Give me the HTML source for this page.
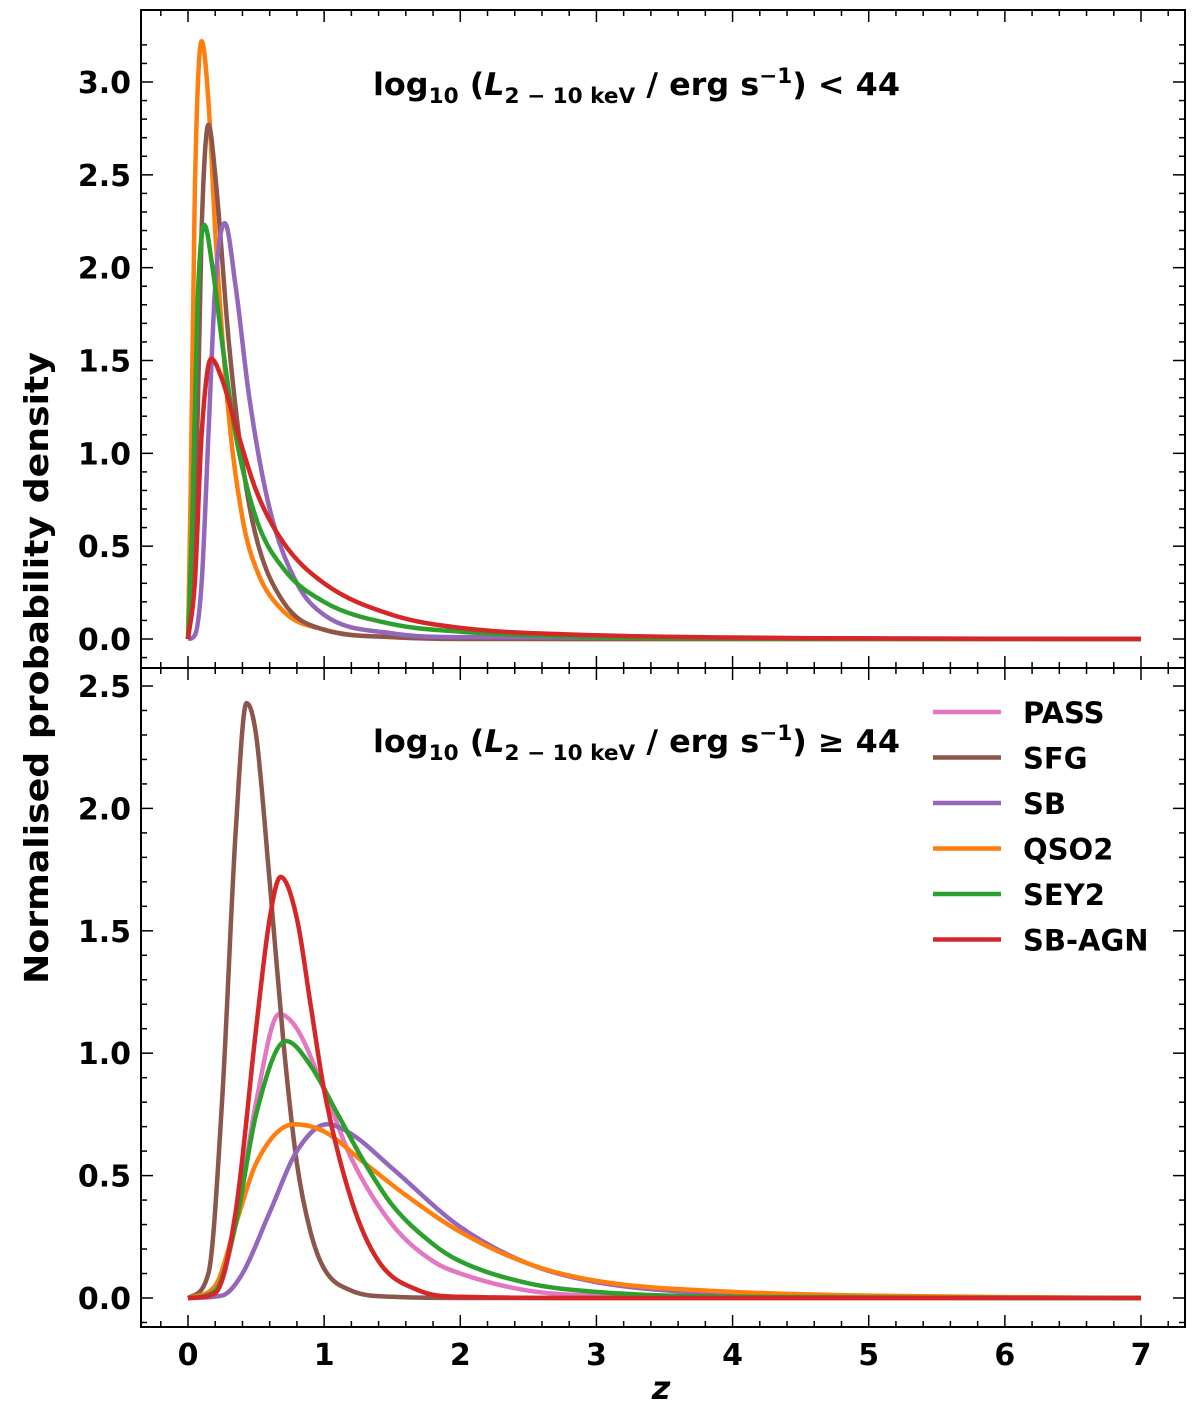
<!DOCTYPE html>
<html><head><meta charset="utf-8"><style>
body{margin:0;background:#fff;}
svg text{font-family:"DejaVu Sans","Liberation Sans",sans-serif;font-weight:bold;fill:#000;}
</style></head><body>
<svg id="chart" width="1200" height="1408" viewBox="0 0 1200 1408" xmlns="http://www.w3.org/2000/svg"></svg>
<script>
const colors={PASS:'#e377c2',SFG:'#8c564b',SB:'#9467bd',QSO2:'#ff7f0e',SEY2:'#2ca02c','SB-AGN':'#d62728'};
const legendNames=['PASS','SFG','SB','QSO2','SEY2','SB-AGN'];
const xTicks=[0,1,2,3,4,5,6,7];
const topYTicks=[0.0,0.5,1.0,1.5,2.0,2.5,3.0];
const botYTicks=[0.0,0.5,1.0,1.5,2.0,2.5];
// top panel (L<44)
const topQSO2z=[0,0.02,0.05,0.1,0.15,0.2,0.3,0.4,0.5,0.7,1,1.5,2,3,4,7];
const topQSO2y=[0,0.8,2.4,3.22,2.9,2.2,1.2,0.65,0.38,0.15,0.05,0.01,0.003,0,0,0];
const topSFGz=[0,0.05,0.1,0.15,0.2,0.3,0.4,0.5,0.7,1,1.5,2,7];
const topSFGy=[0,0.5,2.2,2.77,2.5,1.6,0.95,0.55,0.2,0.05,0.01,0,0];
const topSEY2z=[0,0.03,0.07,0.12,0.18,0.25,0.35,0.5,0.7,1,1.5,2,3,4,7];
const topSEY2y=[0,0.6,1.8,2.23,2.0,1.6,1.1,0.65,0.38,0.2,0.08,0.04,0.01,0.003,0];
const topSBz=[0,0.05,0.1,0.15,0.2,0.27,0.35,0.45,0.6,0.8,1,1.5,2,7];
const topSBy=[0,0.02,0.3,1.1,1.9,2.24,1.9,1.3,0.7,0.3,0.13,0.03,0.01,0];
const topAGNz=[0,0.05,0.1,0.17,0.25,0.35,0.5,0.7,1,1.5,2,3,4,5,7];
const topAGNy=[0,0.3,1.1,1.51,1.4,1.15,0.8,0.52,0.3,0.13,0.06,0.02,0.008,0.003,0];
// bottom panel (L>=44)
const botSFGz=[0,0.15,0.25,0.35,0.43,0.5,0.6,0.7,0.8,0.9,1,1.2,1.5,2,7];
const botSFGy=[0,0.1,0.8,1.9,2.43,2.3,1.7,1.05,0.55,0.27,0.12,0.03,0.005,0,0];
const botAGNz=[0,0.2,0.35,0.5,0.6,0.68,0.8,0.9,1,1.2,1.4,1.7,2,3,7];
const botAGNy=[0,0.02,0.35,1.1,1.55,1.72,1.55,1.2,0.85,0.4,0.15,0.03,0.005,0,0];
const botPASSz=[0,0.2,0.35,0.5,0.67,0.8,1,1.2,1.5,1.8,2,2.5,3,7];
const botPASSy=[0,0.02,0.3,0.8,1.16,1.1,0.85,0.57,0.3,0.15,0.1,0.03,0.01,0];
const botSEY2z=[0,0.2,0.35,0.5,0.72,0.9,1.1,1.3,1.5,1.8,2,2.5,3,4,7];
const botSEY2y=[0,0.03,0.3,0.75,1.05,0.95,0.75,0.55,0.38,0.22,0.15,0.06,0.025,0.005,0];
const botQSO2z=[0,0.2,0.35,0.5,0.78,1,1.3,1.6,2,2.5,3,4,5,7];
const botQSO2y=[0,0.05,0.3,0.55,0.71,0.68,0.55,0.42,0.27,0.14,0.07,0.025,0.01,0];
const botSBz=[0,0.25,0.4,0.6,0.8,1.02,1.2,1.5,2,2.5,3,4,5,7];
const botSBy=[0,0.01,0.1,0.35,0.6,0.71,0.67,0.53,0.29,0.14,0.065,0.015,0.004,0];

const NS='http://www.w3.org/2000/svg';
const svg=document.getElementById('chart');
function el(tag,attrs,parent){const e=document.createElementNS(NS,tag);for(const k in attrs)e.setAttribute(k,attrs[k]);(parent||svg).appendChild(e);return e;}
const X0=141,X1=1185;
const xs=z=>188+z*(1141-188)/7;
const topY=v=>639-v*(639-82)/3;
const botY=v=>1298-v*(1298-686)/2.5;

function mono(px,py){
  const n=px.length,d=[],m=[];
  for(let i=0;i<n-1;i++)d.push((py[i+1]-py[i])/(px[i+1]-px[i]));
  m[0]=d[0];m[n-1]=d[n-2];
  for(let i=1;i<n-1;i++){m[i]=(d[i-1]*d[i]<=0)?0:(d[i-1]+d[i])/2;}
  for(let i=0;i<n-1;i++){if(d[i]===0){m[i]=0;m[i+1]=0;continue;}const a=m[i]/d[i],b=m[i+1]/d[i];const s=a*a+b*b;if(s>9){const t=3/Math.sqrt(s);m[i]=t*a*d[i];m[i+1]=t*b*d[i];}}
  let p='M'+px[0].toFixed(1)+','+py[0].toFixed(1);
  for(let i=0;i<n-1;i++){const h=px[i+1]-px[i];p+=' C'+(px[i]+h/3).toFixed(1)+','+(py[i]+m[i]*h/3).toFixed(1)+' '+(px[i+1]-h/3).toFixed(1)+','+(py[i+1]-m[i+1]*h/3).toFixed(1)+' '+px[i+1].toFixed(1)+','+py[i+1].toFixed(1);}
  return p;
}
function curve(zs,vs,yf,name,color,g){
  const p=el('path',{d:mono(zs.map(xs),vs.map(yf)),fill:'none',stroke:color,'stroke-width':4.5,'stroke-linejoin':'round'},g);
  
  
}
function panel(y0,y1,yf,ticks,vmax,label,tag){
  const g=el('g',{});
  
  
  for(let z=-0.2;z<=7.4;z+=0.2){const zz=Math.round(z*10)/10;const x=xs(zz);if(x<X0||x>X1)continue;const major=Math.abs(zz-Math.round(zz))<1e-6;const L=major?12:6;
    el('line',{x1:x,y1:y1,x2:x,y2:y1-L,stroke:'#000','stroke-width':1.5},g);el('line',{x1:x,y1:y0,x2:x,y2:y0+L,stroke:'#000','stroke-width':1.5},g);}
  for(let v=-0.1;v<=vmax;v+=0.1){const vv=Math.round(v*10)/10;const y=yf(vv);if(y<y0||y>y1)continue;const major=Math.abs(vv*2-Math.round(vv*2))<1e-6;const L=major?12:6;
    el('line',{x1:X0,y1:y,x2:X0+L,y2:y,stroke:'#000','stroke-width':1.5},g);el('line',{x1:X1,y1:y,x2:X1-L,y2:y,stroke:'#000','stroke-width':1.5},g);}
  ticks.forEach(v=>{const t=el('text',{x:131,y:yf(v)+11,'text-anchor':'end','font-size':30},g);t.textContent=v.toFixed(1);
    
    });
  const t=el('text',{x:373,y:label.y,'font-size':31,textLength:527,lengthAdjust:'spacingAndGlyphs'},g);
  
  
  t.innerHTML='log<tspan font-size="21" dy="8">10</tspan><tspan dy="-8"> (</tspan><tspan font-style="italic">L</tspan><tspan font-size="21" dy="8">2 − 10 keV</tspan><tspan dy="-8"> / erg s</tspan><tspan font-size="21" dy="-12">−1</tspan><tspan dy="12">) '+label.op+' 44</tspan>';
  return g;
}
const gt=panel(10,668,topY,topYTicks,3.3,{y:95,op:'<'},'top');
const gb=panel(668,1327,botY,botYTicks,2.7,{y:752,op:'≥'},'bottom');
curve(topQSO2z,topQSO2y,topY,'top-qso2-curve',colors.QSO2,gt);
curve(topSFGz,topSFGy,topY,'top-sfg-curve',colors.SFG,gt);
curve(topSBz,topSBy,topY,'top-sb-curve',colors.SB,gt);
curve(topSEY2z,topSEY2y,topY,'top-sey2-curve',colors.SEY2,gt);
curve(topAGNz,topAGNy,topY,'top-sb-agn-curve',colors['SB-AGN'],gt);
curve(botPASSz,botPASSy,botY,'bottom-pass-curve',colors.PASS,gb);
curve(botSFGz,botSFGy,botY,'bottom-sfg-curve',colors.SFG,gb);
curve(botSBz,botSBy,botY,'bottom-sb-curve',colors.SB,gb);
curve(botQSO2z,botQSO2y,botY,'bottom-qso2-curve',colors.QSO2,gb);
curve(botSEY2z,botSEY2y,botY,'bottom-sey2-curve',colors.SEY2,gb);
curve(botAGNz,botAGNy,botY,'bottom-sb-agn-curve',colors['SB-AGN'],gb);
el('rect',{x:X0,y:10,width:X1-X0,height:1317,fill:'none',stroke:'#000','stroke-width':2});
el('line',{x1:X0,y1:668,x2:X1,y2:668,stroke:'#000','stroke-width':2});
xTicks.forEach(v=>{const t=el('text',{x:xs(v),y:1365,'text-anchor':'middle','font-size':30});t.textContent=v;
  
  });
const xl=el('text',{x:661,y:1399,'text-anchor':'middle','font-size':32,'font-style':'italic'});xl.textContent='z';


const yl=el('text',{x:0,y:0,'text-anchor':'middle','font-size':33,transform:'translate(48,668) rotate(-90)',textLength:632,lengthAdjust:'spacingAndGlyphs'});yl.textContent='Normalised probability density';


const lg=el('g',{});


legendNames.forEach((n,i)=>{const y=712+i*45.5;
  el('line',{x1:933,y1:y,x2:1001,y2:y,stroke:colors[n],'stroke-width':4.5},lg);
  const t=el('text',{x:1023,y:y+11,'font-size':29},lg);t.textContent=n;
  
  });
</script>
</body></html>
